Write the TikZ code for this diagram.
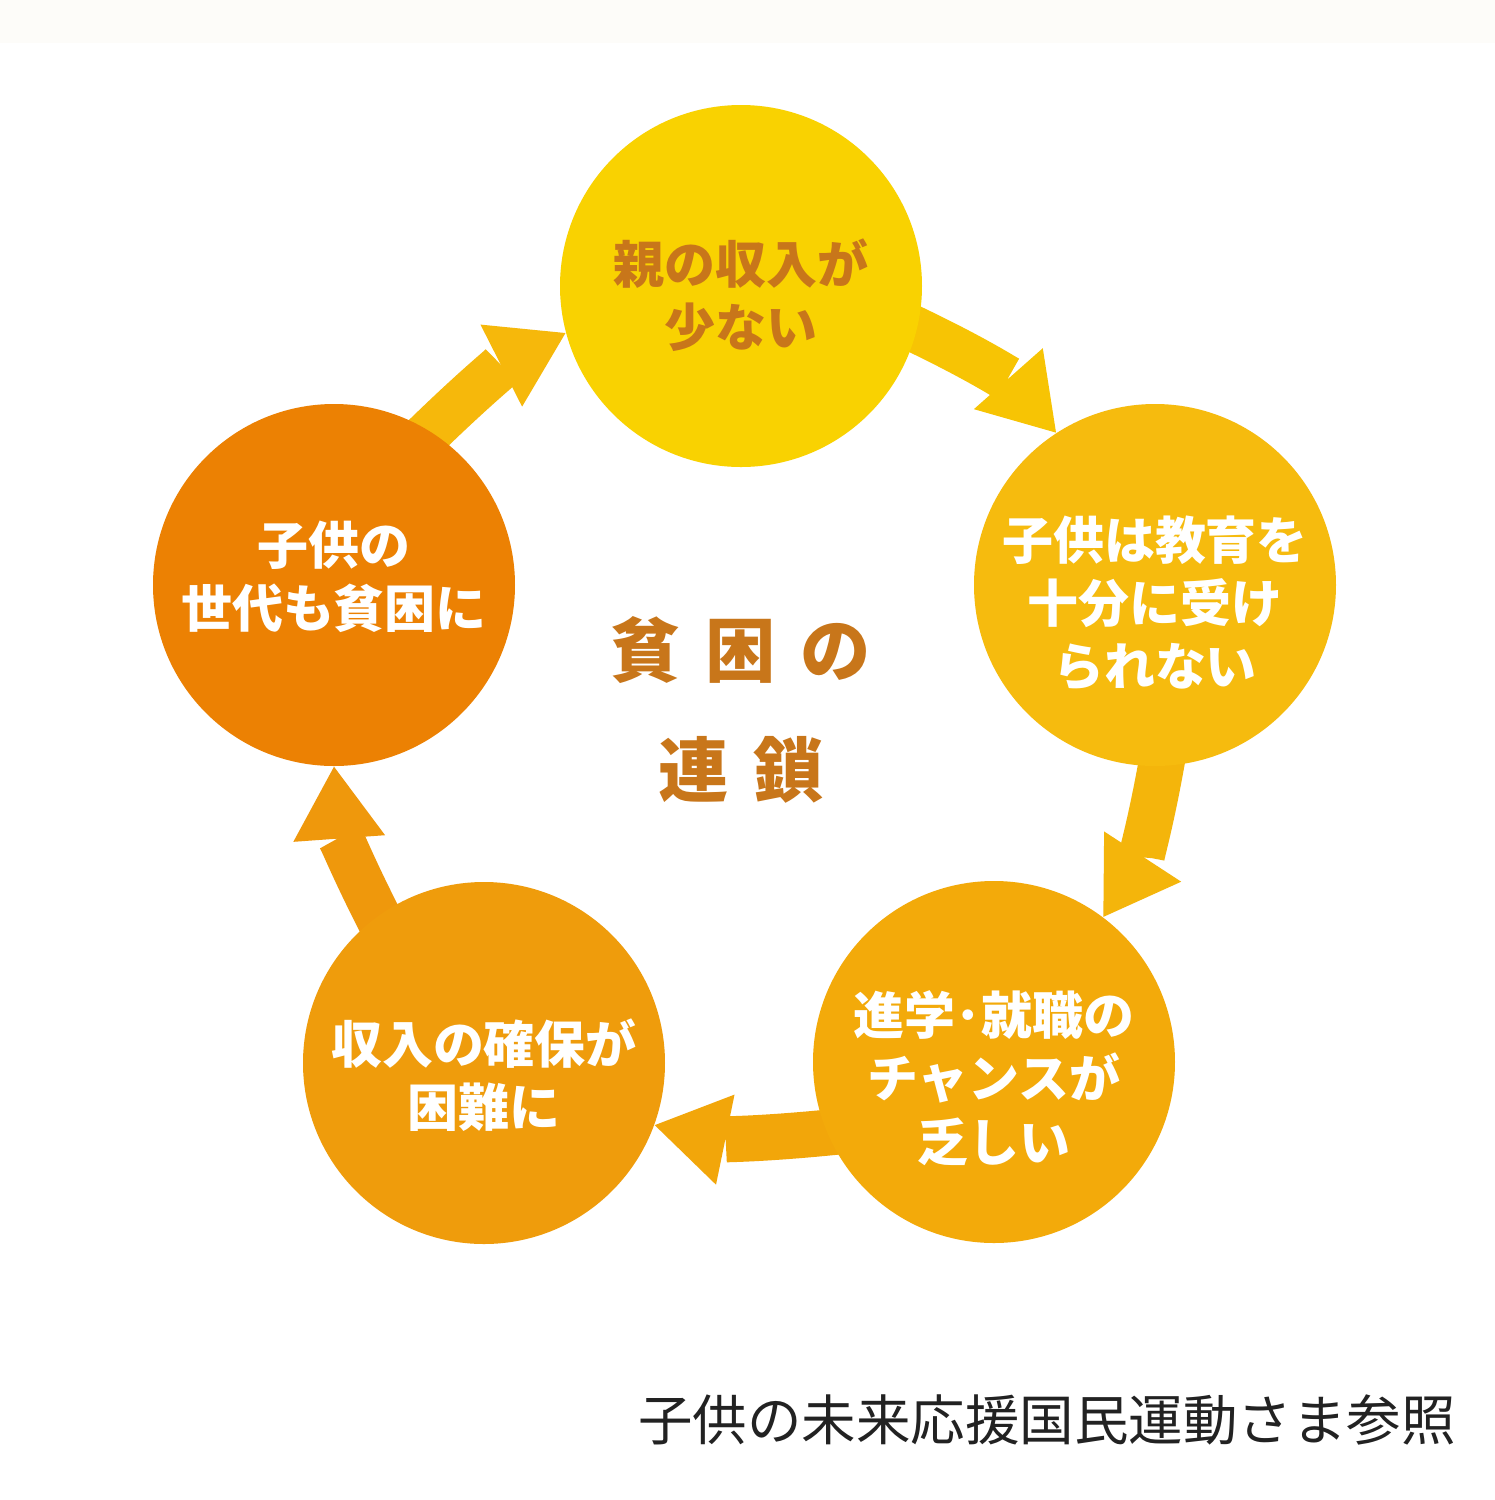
\documentclass[tikz,border=0pt]{standalone}
\usepackage{fontspec}
\usepackage{tikz}
\usetikzlibrary{arrows.meta,positioning,backgrounds}
\newfontfamily\jpfont{Noto Sans CJK JP}
\definecolor{stripbg}{HTML}{FDFCF9}
\definecolor{brownorange}{HTML}{C8761A}
\definecolor{capgray}{HTML}{222222}
\definecolor{cTop}{HTML}{F9D201}
\definecolor{cRight}{HTML}{F6BB0E}
\definecolor{cLowR}{HTML}{F3AA0A}
\definecolor{cLowL}{HTML}{EF9C0C}
\definecolor{cLeft}{HTML}{EC8103}
\definecolor{aTop}{HTML}{F7C404}
\definecolor{aRight}{HTML}{F4B50B}
\definecolor{aLow}{HTML}{F2A60A}
\definecolor{aLeft}{HTML}{EF980C}
\definecolor{aUp}{HTML}{F6B80B}

\begin{document}
\begin{tikzpicture}[>=latex, font=\jpfont,
    bubble/.style={circle, minimum size=3.62cm, inner sep=0pt},
    bubbletext/.style={align=center, inner sep=0pt,
        font=\jpfont\bfseries\fontsize{14.5}{18}\selectfont, text=white},
    cyclearrow/.style={line width=0.46cm, shorten <=-0.4cm,
        -{Triangle[width=0.92cm,length=0.72cm,line width=0pt]}}]
    \useasboundingbox (0,0) rectangle (14.95,-15);

    % Kreise
    \node[bubble, fill=cTop] (parents) at (7.41,-2.86) {};
    \node[bubble, fill=cRight] (school) at (11.55,-5.85) {};
    \node[bubble, fill=cLowR] (chance) at (9.94,-10.62) {};
    \node[bubble, fill=cLowL] (income) at (4.84,-10.63) {};
    \node[bubble, fill=cLeft] (nextgen) at (3.34,-5.85) {};

    % Texte in den Kreisen
    \node[bubbletext, text=brownorange] (parentsText) at ([yshift=-0.09cm]parents) {親の収入が\\少ない};
    \node[bubbletext] (schoolText) at ([yshift=-0.18cm]school) {子供は教育を\\十分に受け\\られない};
    \node[bubbletext] (chanceText) at ([yshift=-0.16cm]chance) {進学･就職の\\チャンスが\\乏しい};
    \node[bubbletext] (incomeText) at ([yshift=-0.12cm]income) {収入の確保が\\困難に};
    \node[bubbletext] (nextgenText) at ([yshift=0.08cm]nextgen) {子供の\\世代も貧困に};

    % Mitte
    \node[text=brownorange, align=center, font=\jpfont\bfseries\fontsize{20}{34}\selectfont]
        (title) at (7.41,-7.1) {貧\hspace{7pt}困\hspace{7pt}の\\連\hspace{7pt}鎖};

    % Quelle
    \node[anchor=east, text=capgray, font=\jpfont\fontsize{15.5}{18}\selectfont]
        (source) at (14.68,-14.2) {子供の未来応援国民運動さま参照};

    % Pfeile hinter den Kreisen
    \begin{scope}[on background layer]
        \fill[white] (0,0) rectangle (14.95,-15);
        \fill[stripbg] (0,0) rectangle (14.95,-0.43);
        \draw[cyclearrow, aTop] (parents.-14) to[bend left=12] (school.123);
        \draw[cyclearrow, aRight] (school.-88) to[bend left=12] (chance.53);
        \draw[cyclearrow, aLow] (chance.203) to[bend left=9] (income.-20);
        \draw[cyclearrow, aLeft] (income.126) to[bend left=12] (nextgen.-90);
        \draw[cyclearrow, aUp] (nextgen.58) to[bend left=9] (parents.195);
    \end{scope}
\end{tikzpicture}
\end{document}
